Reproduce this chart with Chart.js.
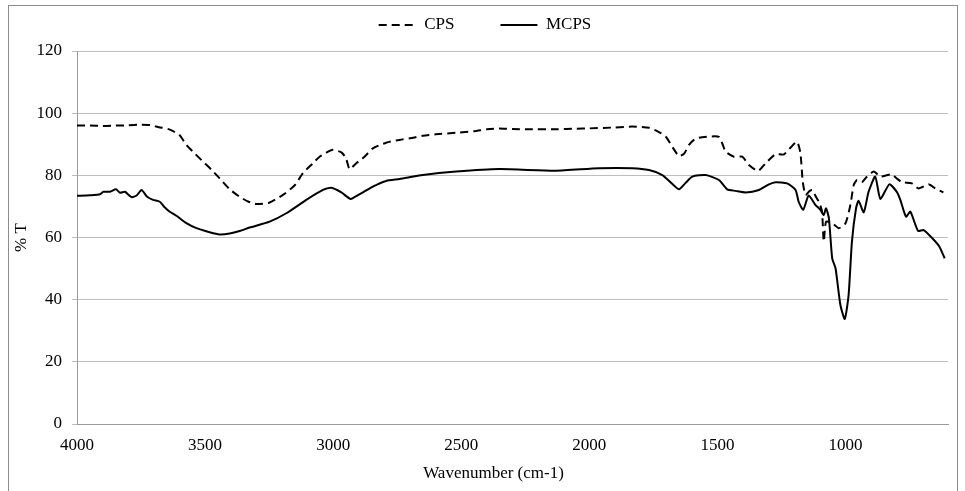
<!DOCTYPE html>
<html>
<head>
<meta charset="utf-8">
<script src="https://cdn.jsdelivr.net/npm/chart.js@4.4.0/dist/chart.umd.min.js"></script>
<style>
  html, body { margin: 0; padding: 0; background: #fff; }
  #wrap { position: absolute; left: 0; top: 0; width: 965px; height: 491px; }
  #frame { position: absolute; left: 8px; top: 5px; width: 948px; height: 500px;
           border: 1px solid #8c8c8c; pointer-events: none; }
</style>
</head>
<body>
<div id="wrap"><canvas id="ftir"></canvas></div>
<div id="frame"></div>
<script>
// FTIR spectra, % transmittance vs wavenumber

const cpsWn = [4000, 3950, 3900, 3850, 3800, 3750, 3715, 3680, 3640, 3600, 3573, 3540, 3508, 3475,
  3443, 3404, 3365, 3330, 3300, 3250, 3196, 3150, 3118, 3080, 3053, 3020, 3001, 2968, 2950, 2936,
  2910, 2880, 2845, 2793, 2741, 2700, 2650, 2600, 2520, 2450, 2400, 2352, 2300, 2235, 2131, 2050,
  2001, 1900, 1832, 1767, 1730, 1702, 1675, 1650, 1630, 1611, 1590, 1572, 1530, 1494, 1480, 1468,
  1436, 1403, 1377, 1341, 1312, 1273, 1241, 1215, 1189, 1176, 1167, 1156, 1140, 1130, 1115, 1104,
  1092, 1085, 1076, 1052, 1026, 1000, 981, 968, 955, 936, 916, 890, 864, 840, 819, 800, 780, 741,
  715, 676, 650, 618];
const cpsT = [96.0, 96.0, 95.9, 96.0, 96.1, 96.3, 96.2, 95.5, 94.8, 93.0, 89.8, 87.0, 84.4, 81.8,
  79.0, 75.5, 73.1, 71.5, 70.8, 71.2, 73.7, 76.8, 80.7, 83.8, 86.0, 87.6, 88.2, 87.4, 85.5, 82.0,
  83.9, 85.8, 88.7, 90.5, 91.4, 91.9, 92.7, 93.2, 93.7, 94.2, 94.8, 95.1, 94.9, 94.8, 94.8, 95.0,
  95.1, 95.4, 95.7, 95.3, 94.0, 92.5, 89.0, 86.2, 87.0, 89.8, 91.5, 92.1, 92.5, 92.4, 90.0, 87.6,
  86.0, 86.0, 83.3, 81.4, 83.9, 86.8, 86.7, 88.9, 90.8, 87.1, 78.0, 73.7, 75.0, 75.3, 73.0, 71.5,
  68.5, 58.7, 65.1, 64.6, 63.0, 64.6, 70.5, 76.9, 78.5, 77.8, 79.6, 81.2, 79.6, 80.0, 80.3, 79.0,
  77.8, 77.4, 75.8, 77.1, 75.8, 74.5];

const mcpsWn = [4000, 3950, 3910, 3897, 3871, 3848, 3832, 3813, 3787, 3767, 3748, 3726, 3703, 3677,
  3661, 3638, 3612, 3573, 3534, 3482, 3443, 3404, 3365, 3326, 3248, 3183, 3105, 3040, 3007, 2968,
  2933, 2917, 2884, 2845, 2793, 2741, 2650, 2520, 2352, 2131, 1962, 1832, 1767, 1715, 1680, 1650,
  1625, 1598, 1546, 1494, 1462, 1429, 1390, 1338, 1299, 1273, 1228, 1195, 1183, 1165, 1144, 1118,
  1098, 1085, 1076, 1065, 1052, 1039, 1020, 1003, 988, 975, 959, 949, 929, 910, 884, 864, 829, 800,
  786, 764, 747, 717, 695, 663, 634, 613];
const mcpsT = [73.4, 73.6, 73.9, 74.7, 74.7, 75.5, 74.4, 74.7, 73.0, 73.5, 75.3, 73.1, 72.1, 71.5,
  70.0, 68.3, 67.0, 64.6, 63.0, 61.7, 61.0, 61.3, 62.1, 63.2, 65.1, 67.8, 72.1, 75.3, 76.0, 74.5,
  72.4, 73.0, 74.5, 76.4, 78.2, 78.8, 80.1, 81.2, 82.0, 81.5, 82.3, 82.3, 81.7, 80.1, 77.5, 75.5,
  77.5, 79.6, 80.1, 78.5, 75.5, 75.0, 74.5, 75.3, 77.1, 77.8, 77.4, 75.3, 71.5, 68.9, 73.5, 70.5,
  68.9, 67.2, 69.4, 66.2, 53.3, 50.1, 38.3, 33.8, 41.5, 58.7, 69.4, 71.8, 68.1, 74.7, 79.6, 72.4,
  77.1, 74.7, 72.1, 66.7, 68.3, 62.1, 62.4, 59.9, 57.1, 53.3];

const xTicks = [4000, 3500, 3000, 2500, 2000, 1500, 1000];
const yTicks = [0, 20, 40, 60, 80, 100, 120];

const FONT = 'Liberation Serif, Times New Roman, serif';

function toPoints(xs, ys) {
  return xs.map((x, i) => ({ x: x, y: ys[i] }));
}

// the legend box starts above the canvas (negative top padding) so the wide
// item padding does not push the plot down; height is fixed so the plot starts at y=51
const layoutTweak = {
  id: 'layoutTweak',
  afterInit(chart) {
    const lg = chart.legend;
    const fit = lg.fit;
    lg.fit = function () { fit.call(this); this.height = 80.5; };
    const draw = lg.draw;
    lg.draw = function () {
      const c = this.ctx;
      c.save();
      c.translate(11, 0);
      draw.call(this);
      c.restore();
    };
  },
  afterLayout(chart) {
    // x title sits a bit left of the plot centre in the original
    const sx = chart.scales.x;
    if (sx._titleShifted) return;
    const drawTitle = sx.drawTitle;
    sx.drawTitle = function () {
      const c = this.ctx;
      c.save();
      c.translate(-19, 0);
      drawTitle.call(this);
      c.restore();
    };
    sx._titleShifted = true;
  }
};

new Chart(document.getElementById('ftir'), {
  type: 'line',
  data: {
    datasets: [
      {
        label: 'CPS',
        data: toPoints(cpsWn, cpsT),
        borderColor: '#000',
        borderWidth: 2,
        borderDash: [8, 5],
        pointRadius: 0,
        tension: 0.2,
        fill: false
      },
      {
        label: 'MCPS',
        data: toPoints(mcpsWn, mcpsT),
        borderColor: '#000',
        borderWidth: 2,
        pointRadius: 0,
        tension: 0.2,
        fill: false
      }
    ]
  },
  options: {
    responsive: true,
    maintainAspectRatio: false,
    animation: false,
    layout: { padding: { left: 0, right: 17, top: -29.5, bottom: 0 } },
    plugins: {
      tooltip: { enabled: false },
      legend: {
        position: 'top',
        labels: {
          usePointStyle: true,
          pointStyle: 'line',
          pointStyleWidth: 37,
          padding: 46,
          color: '#000',
          font: { family: FONT, size: 17 },
          generateLabels: function (chart) {
            const items = Chart.defaults.plugins.legend.labels.generateLabels(chart);
            items.forEach(it => {
              const ds = chart.data.datasets[it.datasetIndex];
              it.lineDash = ds.borderDash || [];
              it.lineWidth = ds.borderWidth;
              it.strokeStyle = ds.borderColor;
            });
            return items;
          }
        }
      }
    },
    scales: {
      x: {
        type: 'linear',
        reverse: true,
        min: 600,
        max: 4000,
        afterBuildTicks: function (axis) {
          axis.ticks = xTicks.map(v => ({ value: v }));
        },
        afterFit: function (axis) { axis.height = 67; },
        grid: { display: false, drawTicks: false },
        border: { display: true, color: '#9a9a9a' },
        ticks: {
          padding: 11,
          maxRotation: 0,
          color: '#000',
          font: { family: FONT, size: 17 },
          callback: v => String(v)
        },
        title: {
          display: true,
          text: 'Wavenumber (cm-1)',
          color: '#000',
          font: { family: FONT, size: 17 },
          padding: { top: 0, bottom: 7 }
        }
      },
      y: {
        min: 0,
        max: 120,
        afterBuildTicks: function (axis) {
          axis.ticks = yTicks.map(v => ({ value: v }));
        },
        afterFit: function (axis) { axis.width = 77; },
        grid: { color: '#bdbdbd', tickLength: 5, tickColor: '#bdbdbd' },
        border: { display: true, color: '#9a9a9a' },
        ticks: {
          padding: 10,
          color: '#000',
          font: { family: FONT, size: 17 }
        },
        title: {
          display: true,
          text: '% T',
          color: '#000',
          font: { family: FONT, size: 17 },
          padding: { top: 11, bottom: 0 }
        }
      }
    }
  },
  plugins: [layoutTweak]
});
</script>
</body>
</html>
